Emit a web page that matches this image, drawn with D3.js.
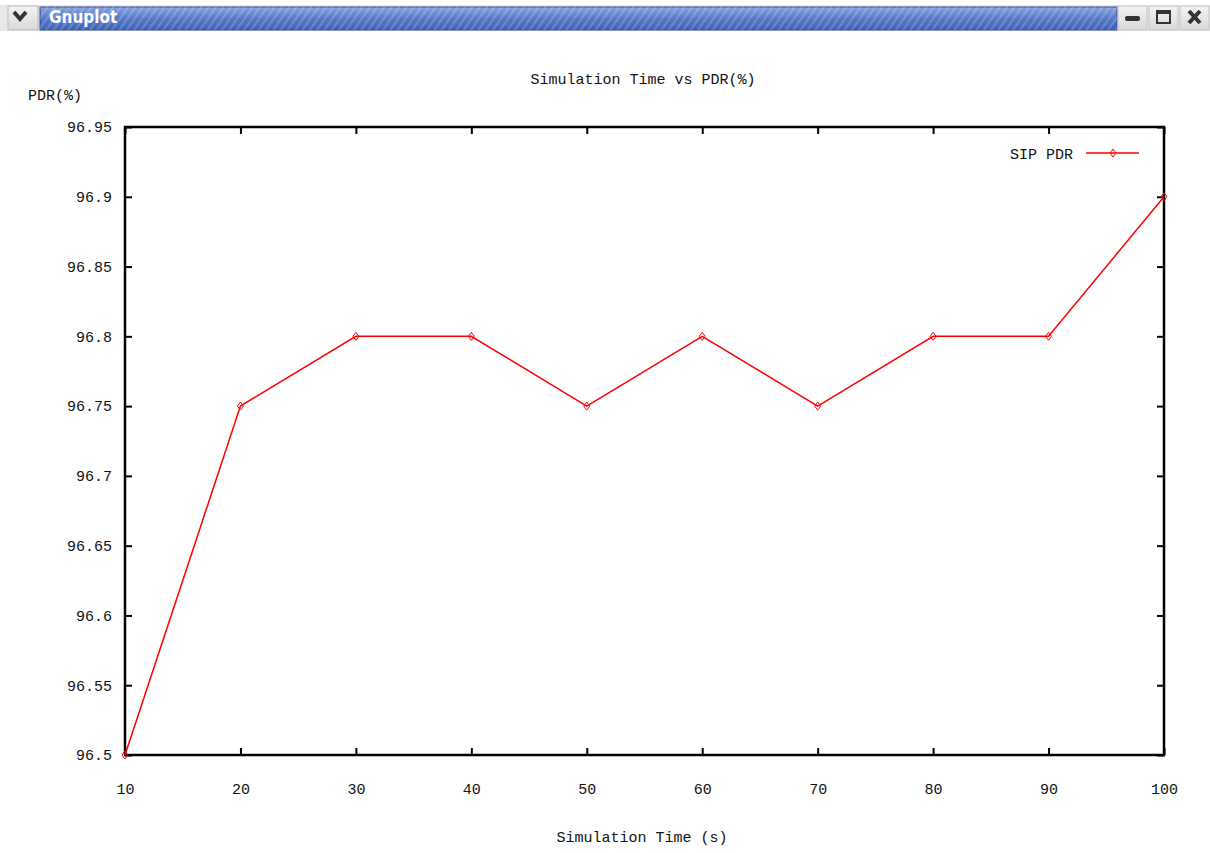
<!DOCTYPE html>
<html><head><meta charset="utf-8">
<script src="https://cdn.jsdelivr.net/npm/d3@7"></script>
<style>body{margin:0;background:#fff;} svg{display:block;}</style>
</head><body>
<script>
const simTime = [10,20,30,40,50,60,70,80,90,100];
const pdr = [96.5,96.75,96.8,96.8,96.75,96.8,96.75,96.8,96.8,96.9];
const xTicks = [10,20,30,40,50,60,70,80,90,100];
const yTicks = [96.5,96.55,96.6,96.65,96.7,96.75,96.8,96.85,96.9,96.95];
const seriesName = "SIP PDR";
const titleText = "Simulation Time vs PDR(%)";
const xLabel = "Simulation Time (s)";
const yLabel = "PDR(%)";

const W=1210,H=853;
const svg=d3.select("body").append("svg").attr("width",W).attr("height",H);
const font="'Liberation Mono', 'DejaVu Sans Mono', monospace";
const fs=15;

// window title bar
const defs=svg.append("defs");
const g1=defs.append("linearGradient").attr("id","tb").attr("x1",0).attr("y1",0).attr("x2",0).attr("y2",1);
g1.append("stop").attr("offset","0").attr("stop-color","#86a3dc");
g1.append("stop").attr("offset","0.5").attr("stop-color","#5678c6");
g1.append("stop").attr("offset","1").attr("stop-color","#3d62b5");
const pat=defs.append("pattern").attr("id","hatch").attr("width",6).attr("height",6)
  .attr("patternUnits","userSpaceOnUse").attr("patternTransform","rotate(35)");
pat.append("rect").attr("width",2).attr("height",6).attr("fill","rgba(255,255,255,0.18)");
const gb=defs.append("linearGradient").attr("id","btn").attr("x1",0).attr("y1",0).attr("x2",0).attr("y2",1);
gb.append("stop").attr("offset","0").attr("stop-color","#f4f4f4");
gb.append("stop").attr("offset","1").attr("stop-color","#d8d8d8");

svg.append("rect").attr("x",0).attr("y",5).attr("width",W).attr("height",26).attr("fill","#e8e8e8");
svg.append("rect").attr("x",8).attr("y",6).attr("width",30).attr("height",24).attr("fill","url(#btn)").attr("stroke","#bbb");
svg.append("path").attr("d","M14,12 L20,19 L26,12").attr("fill","none").attr("stroke","#333").attr("stroke-width",4);
svg.append("rect").attr("x",40).attr("y",7).attr("width",1077).attr("height",23).attr("fill","url(#tb)").attr("stroke","#2c4a90");
svg.append("rect").attr("x",40).attr("y",7).attr("width",1077).attr("height",23).attr("fill","url(#hatch)");
svg.append("text").attr("x",49).attr("y",23).attr("fill","#fff").attr("font-family","'DejaVu Sans Condensed','DejaVu Sans',sans-serif")
  .attr("font-weight","bold").attr("font-size",17).text("Gnuplot");
[1118,1149,1180].forEach(x=>svg.append("rect").attr("x",x).attr("y",6).attr("width",29).attr("height",24).attr("fill","url(#btn)").attr("stroke","#c4c4c4"));
svg.append("rect").attr("x",1125).attr("y",16).attr("width",15).attr("height",5).attr("rx",2).attr("fill","#333");
svg.append("rect").attr("x",1157).attr("y",11).attr("width",13).attr("height",12).attr("fill","none").attr("stroke","#333").attr("stroke-width",2);
svg.append("rect").attr("x",1157).attr("y",11).attr("width",13).attr("height",3).attr("fill","#333");
svg.append("path").attr("d","M1189,11 L1200,23 M1200,11 L1189,23").attr("stroke","#333").attr("stroke-width",4);

// plot area
const L=125,R=1164,T=127,B=755;
const x=d3.scaleLinear().domain([10,100]).range([L,R]);
const y=d3.scaleLinear().domain([96.5,96.95]).range([B,T]);
const tl=7;

const fmt=d=>String(+d.toFixed(2));
const axB=svg.append("g").attr("transform",`translate(0,${B})`)
  .call(d3.axisBottom(x).tickValues(xTicks).tickSize(-tl).tickPadding(tl+21).tickFormat(d=>d));
const axT=svg.append("g").attr("transform",`translate(0,${T})`)
  .call(d3.axisTop(x).tickValues(xTicks).tickSize(-tl).tickFormat(""));
const axL=svg.append("g").attr("transform",`translate(${L},0)`)
  .call(d3.axisLeft(y).tickValues(yTicks).tickSize(-tl).tickPadding(tl+6).tickFormat(fmt));
const axR=svg.append("g").attr("transform",`translate(${R},0)`)
  .call(d3.axisRight(y).tickValues(yTicks).tickSize(-tl).tickFormat(""));
[axB,axT,axL,axR].forEach(a=>{
  a.select(".domain").remove();
  a.selectAll(".tick line").attr("stroke","#000").attr("stroke-width",2);
  a.selectAll("text").attr("font-family",font).attr("font-size",fs).attr("fill","#111");
});
svg.append("rect").attr("x",L).attr("y",T).attr("width",R-L).attr("height",B-T)
  .attr("fill","none").attr("stroke","#000").attr("stroke-width",2.5);

// line
const data=simTime.map((t,i)=>({t,v:pdr[i]}));
svg.append("path").datum(data).attr("fill","none").attr("stroke","#ff0000").attr("stroke-width",1.5)
  .attr("d",d3.line().x(d=>x(d.t)).y(d=>y(d.v)));
const diamond="M0,-4 L3,0 L0,4 L-3,0 Z";
svg.selectAll(".pt").data(data).enter().append("path").attr("class","pt")
  .attr("transform",d=>`translate(${x(d.t)},${y(d.v)})`).attr("d",diamond)
  .attr("fill","none").attr("stroke","#ff0000").attr("stroke-width",1);

// legend
svg.append("text").attr("x",1073).attr("y",159).attr("text-anchor","end").attr("font-family",font).attr("font-size",fs).attr("fill","#111").text(seriesName);
svg.append("line").attr("x1",1086).attr("x2",1139).attr("y1",153).attr("y2",153).attr("stroke","#ff0000").attr("stroke-width",1.5);
svg.append("path").attr("transform","translate(1113,153)").attr("d",diamond).attr("fill","none").attr("stroke","#ff0000");

// titles
svg.append("text").attr("x",643).attr("y",84).attr("text-anchor","middle").attr("font-family",font).attr("font-size",fs).attr("fill","#111").text(titleText);
svg.append("text").attr("x",28).attr("y",100).attr("font-family",font).attr("font-size",fs).attr("fill","#111").text(yLabel);
svg.append("text").attr("x",642).attr("y",842).attr("text-anchor","middle").attr("font-family",font).attr("font-size",fs).attr("fill","#111").text(xLabel);
</script>
</body></html>
